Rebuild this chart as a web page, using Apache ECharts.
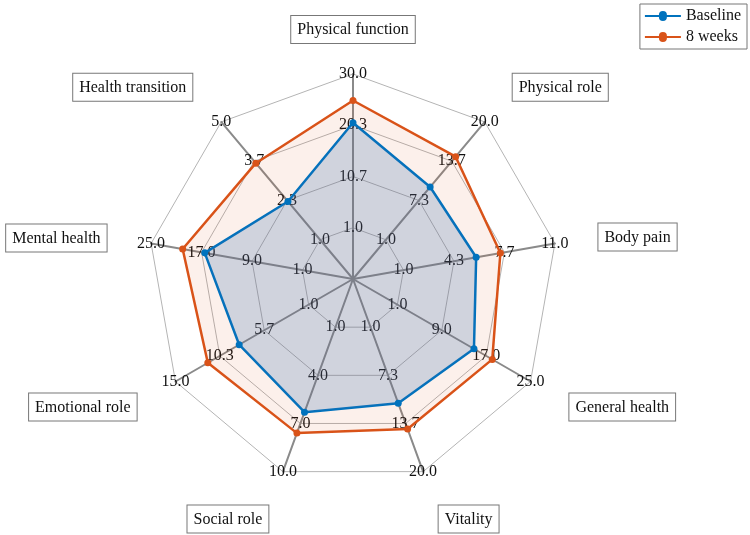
<!DOCTYPE html>
<html>
<head>
<meta charset="utf-8">
<script src="https://cdn.jsdelivr.net/npm/echarts@6/dist/echarts.min.js"></script>
<style>
    html, body { margin: 0; padding: 0; background: #fff; }
    #chart { width: 750px; height: 535px; }
</style>
</head>
<body>
<div id="chart"></div>
<script>
// dimensions, clockwise from the top
const dimensions = ['Physical function', 'Physical role', 'Body pain', 'General health', 'Vitality',
    'Social role', 'Emotional role', 'Mental health', 'Health transition']
const axisMax = [30, 20, 11, 25, 20, 10, 15, 25, 5]
const firstTick = 1
const seriesNames = ['Baseline', '8 weeks']
const baseline = [20.8, 9.5, 5.8, 14.8, 11.0, 6.3, 8.3, 16.5, 2.3]
const week8 = [25.0, 14.4, 7.4, 18.1, 14.4, 7.6, 11.6, 20.0, 3.6]

// extra push (px) of each name box away from where echarts puts it, [dx, dy]
const nameShift = [[0, 0], [8, -11], [13, -1], [12, 10], [3, 13], [-2, 13], [-12, 10], [-14, 0], [-9, -11]]

// echarts lays indicators out counter-clockwise, so keep the first and reverse the rest
const order = [0].concat(dimensions.map((d, i) => i).slice(1).reverse())
const pick = arr => order.map(i => arr[i])

const serif = 'Liberation Serif, Times New Roman, serif'
// line with a dot in the middle, for the legend
const lineDot = 'path://M0,4 H14 A4,4 0 0 1 22,4 H36 V6 H22 A4,4 0 0 1 14,6 H0 Z'

const nameRich = {
    box: {
        color: '#111',
        fontFamily: serif,
        fontSize: 16,
        backgroundColor: '#fff',
        borderColor: '#777',
        borderWidth: 1,
        padding: [6, 6, 5, 6]
    }
}
dimensions.forEach((d, i) => {
    nameRich['h' + i] = { width: Math.abs(nameShift[i][0]), fontSize: 1 }
    nameRich['v' + i] = { height: Math.abs(nameShift[i][1]) * 2, lineHeight: Math.abs(nameShift[i][1]) * 2, fontSize: 1 }
})

function nameText(name) {
    const i = dimensions.indexOf(name)
    const [dx, dy] = nameShift[i]
    const onRight = Math.cos((90 - 40 * i) * Math.PI / 180) > 0.01
    let line = '{box|' + name + '}'
    if (onRight && dx > 0) line = '{h' + i + '| }' + line
    if (!onRight && dx < 0) line = line + '{h' + i + '| }'
    if (i === 0 || dy === 0) return line
    return dy < 0 ? line + '\n{v' + i + '| }' : '{v' + i + '| }\n' + line
}

const chart = echarts.init(document.getElementById('chart'))
chart.setOption({
    animation: false,
    legend: {
        data: seriesNames.map(name => ({ name: name, icon: lineDot })),
        orient: 'vertical',
        right: 3,
        top: 4,
        borderColor: '#777',
        borderWidth: 1,
        padding: [4, 6, 4, 5],
        itemGap: 5,
        itemWidth: 36,
        itemHeight: 10,
        textStyle: { fontFamily: serif, fontSize: 16, color: '#111' }
    },
    radar: {
        center: [353, 279],
        radius: 205,
        startAngle: 90,
        splitNumber: 4,
        shape: 'polygon',
        nameGap: 31,
        indicator: pick(dimensions).map((name, i) => {
            const max = pick(axisMax)[i]
            return { name: name, max: max, min: firstTick - (max - firstTick) / 3 }
        }),
        axisName: {
            formatter: nameText,
            rich: nameRich
        },
        axisLine: { lineStyle: { color: '#8a8a8a', width: 2 } },
        splitLine: { lineStyle: { color: '#b4b4b4', width: 1 } },
        splitArea: { show: false },
        axisTick: { show: false },
        axisLabel: {
            show: true,
            margin: 0,
            align: 'center',
            verticalAlign: 'middle',
            color: '#111',
            fontFamily: serif,
            fontSize: 16,
            formatter: value => (value < firstTick - 1e-6 ? '' : value.toFixed(1))
        }
    },
    series: [
        {
            type: 'radar',
            z: 2,
            symbol: 'circle',
            symbolSize: 7,
            data: [{
                name: '8 weeks',
                value: pick(week8),
                itemStyle: { color: '#D95319' },
                lineStyle: { color: '#D95319', width: 2.5 },
                areaStyle: { color: 'rgba(217, 83, 25, 0.12)' }
            }]
        },
        {
            type: 'radar',
            z: 3,
            symbol: 'circle',
            symbolSize: 7,
            data: [{
                name: 'Baseline',
                value: pick(baseline),
                itemStyle: { color: '#0072BD' },
                lineStyle: { color: '#0072BD', width: 2.5 },
                areaStyle: { color: 'rgba(60, 110, 175, 0.32)' }
            }]
        }
    ]
})
</script>
</body>
</html>
